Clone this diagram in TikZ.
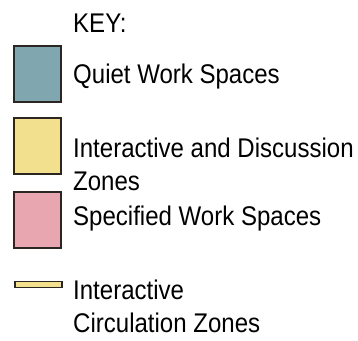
\documentclass[tikz,border=0pt]{standalone}
\usepackage{fontspec}
\setmainfont{Liberation Sans}[FakeStretch=0.89]
\usepackage{xcolor}
\usepackage{tikz}
\usetikzlibrary{positioning}
\definecolor{quietfill}{HTML}{80A6AF}
\definecolor{interfill}{HTML}{F2E08E}
\definecolor{specfill}{HTML}{E8A6B1}
\definecolor{swatchline}{HTML}{2B2622}
\tikzset{
  swatch/.style={
    draw=swatchline,
    line width=1.4pt,
    minimum width=47pt,
    minimum height=56pt,
    inner sep=0pt
  },
  strip/.style={swatch, minimum height=6.5pt, line width=1.3pt, fill=interfill},
  keytext/.style={
    anchor=base west,
    align=left,
    inner sep=0pt,
    font=\fontsize{27}{33}\selectfont
  }
}

\begin{document}
\begin{tikzpicture}[x=1pt,y=-1pt]
\path[use as bounding box] (0,0) rectangle (358,340);
\fill[white] (0,0) rectangle (358,340);

\node[keytext] (title) at (73,32) {KEY:};

\node[swatch, fill=quietfill] (quiet) at (37.5,74) {};
\node[keytext] (quietlabel) at (73,83) {Quiet Work Spaces};

% two-line labels: base anchor sits on the last line
\node[swatch, fill=interfill] (inter) at (37.5,146) {};
\node[keytext] (interlabel) at (73,190) {Interactive and Discussion\\Zones};

\node[swatch, fill=specfill] (spec) at (37.5,220) {};
\node[keytext] (speclabel) at (73,225) {Specified Work Spaces};

\node[strip] (circ) at (38.5,284.5) {};
\node[keytext] (circlabel) at (73,332) {Interactive\\Circulation Zones};
\end{tikzpicture}
\end{document}
